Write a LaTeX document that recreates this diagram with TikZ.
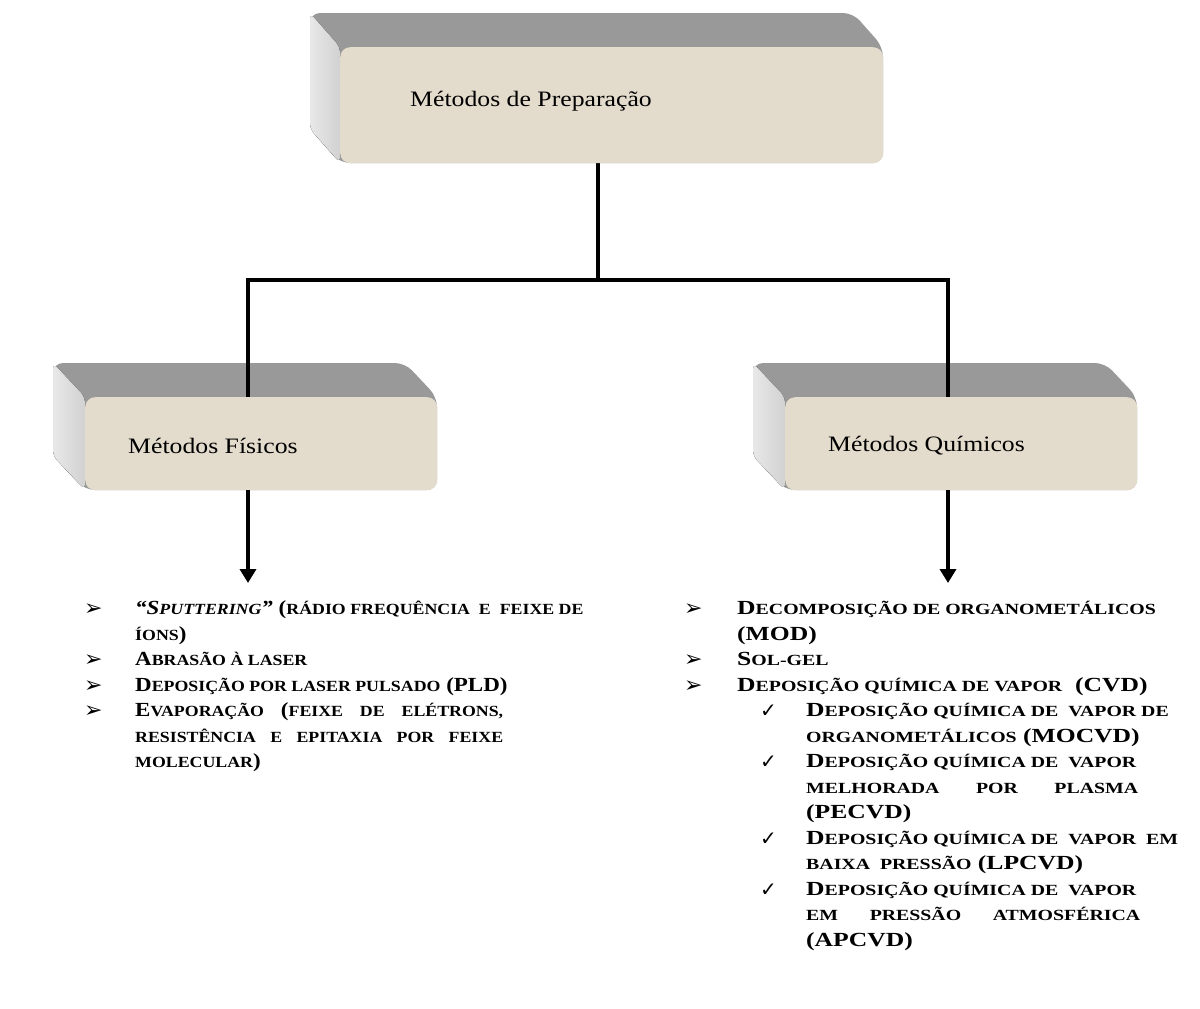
\documentclass[tikz,border=0pt]{standalone}
\usepackage{fontspec}
\setmainfont{Liberation Serif}
\newfontfamily\lblfont[FakeStretch=1.17]{Liberation Serif}
\newfontfamily\leftfont[FakeStretch=1.15]{Liberation Serif}
\newfontfamily\rightfont[FakeStretch=1.28]{Liberation Serif}
\newfontfamily\symf{DejaVu Sans}
\usetikzlibrary{arrows.meta}
\definecolor{beige}{RGB}{227,219,204}
\definecolor{topgray}{RGB}{153,153,153}
\newcommand\smc[1]{{\fontsize{15.5}{18}\selectfont #1}}
\pgfdeclarelayer{back}
\pgfdeclarelayer{lines}
\pgfsetlayers{back,lines,main}
\tikzset{
  frontface/.style={draw=none, fill=beige, rounded corners=10pt, inner sep=0pt, anchor=north west},
  boxlbl/.style={anchor=west, inner sep=0pt, font=\lblfont\fontsize{22}{26}\selectfont},
  ltxt/.style={anchor=base west, inner sep=0pt, font=\leftfont\fontsize{20}{24}\selectfont\bfseries},
  rtxt/.style={anchor=base west, inner sep=0pt, font=\rightfont\fontsize{20}{24}\selectfont\bfseries},
  bul/.style={anchor=base west, inner sep=0pt, font=\symf\fontsize{22}{24}\selectfont},
  chk/.style={anchor=base west, inner sep=0pt, font=\symf\fontsize{20}{24}\selectfont},
  conn/.style={line width=3.5pt, line join=miter},
  arr/.style={line width=3.5pt, -{Triangle[width=16pt,length=14pt]}},
  topface/.style={fill=topgray, rounded corners=10pt},
  sideface/.style={left color=gray!18, right color=gray!36, rounded corners=6pt}
}
\begin{document}
\begin{tikzpicture}[x=1pt,y=-1pt]
\useasboundingbox (0,0) rectangle (1200,1009);
% back (extrusion) faces
\begin{pgfonlayer}{back}
\fill[white] (0,0) rectangle (1200,1009);
\fill[topface] (310,13) -- (853,13) -- (883,47) -- (883,163) -- (340,163) -- (310,129) -- cycle;
\fill[sideface] (310,13) -- (340,47) -- (340,163) -- (310,129) -- cycle;
\fill[topface] (53,363) -- (405,363) -- (437,397) -- (437,490) -- (85,490) -- (53,456) -- cycle;
\fill[sideface] (53,363) -- (85,397) -- (85,490) -- (53,456) -- cycle;
\fill[topface] (753,363) -- (1105,363) -- (1137,397) -- (1137,490) -- (785,490) -- (753,456) -- cycle;
\fill[sideface] (753,363) -- (785,397) -- (785,490) -- (753,456) -- cycle;
\end{pgfonlayer}
% front faces
\node[frontface, minimum width=543pt, minimum height=116pt] (tbox) at (340,47) {};
\node[frontface, minimum width=352pt, minimum height=93pt] (lbox) at (85,397) {};
\node[frontface, minimum width=352pt, minimum height=93pt] (rbox) at (785,397) {};
\node[boxlbl] (tlbl) at (410,101) {Métodos de Preparação};
\node[boxlbl] (llbl) at (128,446) {Métodos Físicos};
\node[boxlbl] (rlbl) at (828,446) {Métodos Químicos};
% connector coordinates
\coordinate (split) at (598,280);
\coordinate (lcorner) at (248,280);
\coordinate (rcorner) at (948,280);
\coordinate (ltip) at (248,583);
\coordinate (rtip) at (948,583);
\begin{pgfonlayer}{lines}
\draw[conn] (tbox.south -| split) -- (split);
\draw[conn] (lbox.north -| lcorner) -- (lcorner) -- (rcorner) -- (rbox.north -| rcorner);
\end{pgfonlayer}
\draw[arr] (lbox.south -| ltip) -- (ltip);
\draw[arr] (rbox.south -| rtip) -- (rtip);
% left list
\node[bul] (lb1) at (84,615) {➢};
\node[ltxt] (l1) at (135,614) {\textit{“S\smc{PUTTERING}”} (\smc{RÁDIO FREQUÊNCIA \ E \ FEIXE DE}};
\node[ltxt] (l2) at (135,640) {\smc{ÍONS})};
\node[bul] (lb2) at (84,666) {➢};
\node[ltxt] (l3) at (135,665) {A\smc{BRASÃO À LASER}};
\node[bul] (lb3) at (84,692) {➢};
\node[ltxt] (l4) at (135,691) {D\smc{EPOSIÇÃO POR LASER PULSADO} (PLD)};
\node[bul] (lb4) at (84,717) {➢};
\node[ltxt] (l5) at (135,716) {\makebox[368pt][s]{E\smc{VAPORAÇÃO} (\smc{FEIXE} \smc{DE} \smc{ELÉTRONS,}}};
\node[ltxt] (l6) at (135,742) {\makebox[368pt][s]{\smc{RESISTÊNCIA} \smc{E} \smc{EPITAXIA} \smc{POR} \smc{FEIXE}}};
\node[ltxt] (l7) at (135,767) {\smc{MOLECULAR})};
% right list
\node[bul] (rb1) at (684,615) {➢};
\node[rtxt] (r1) at (737,614) {D\smc{ECOMPOSIÇÃO DE ORGANOMETÁLICOS}};
\node[rtxt] (r2) at (737,640) {(MOD)};
\node[bul] (rb2) at (684,666) {➢};
\node[rtxt] (r3) at (737,665) {S\smc{OL-GEL}};
\node[bul] (rb3) at (684,692) {➢};
\node[rtxt] (r4) at (737,691) {D\smc{EPOSIÇÃO QUÍMICA DE VAPOR} \ (CVD)};
\node[chk] (rc1) at (760,717) {✓};
\node[rtxt] (r5) at (806,716) {D\smc{EPOSIÇÃO QUÍMICA DE \ VAPOR DE}};
\node[rtxt] (r6) at (806,742) {\smc{ORGANOMETÁLICOS} (MOCVD)};
\node[chk] (rc2) at (760,768) {✓};
\node[rtxt] (r7) at (806,767) {D\smc{EPOSIÇÃO QUÍMICA DE \ VAPOR}};
\node[rtxt] (r8) at (806,793) {\makebox[332pt][s]{\smc{MELHORADA} \smc{POR} \smc{PLASMA}}};
\node[rtxt] (r9) at (806,818) {(PECVD)};
\node[chk] (rc3) at (760,845) {✓};
\node[rtxt] (r10) at (806,844) {D\smc{EPOSIÇÃO QUÍMICA DE \ VAPOR \ EM}};
\node[rtxt] (r11) at (806,869) {\smc{BAIXA \ PRESSÃO} (LPCVD)};
\node[chk] (rc4) at (760,896) {✓};
\node[rtxt] (r12) at (806,895) {D\smc{EPOSIÇÃO QUÍMICA DE \ VAPOR}};
\node[rtxt] (r13) at (806,920) {\makebox[334pt][s]{\smc{EM} \smc{PRESSÃO} \smc{ATMOSFÉRICA}}};
\node[rtxt] (r14) at (806,946) {(APCVD)};
\end{tikzpicture}
\end{document}
